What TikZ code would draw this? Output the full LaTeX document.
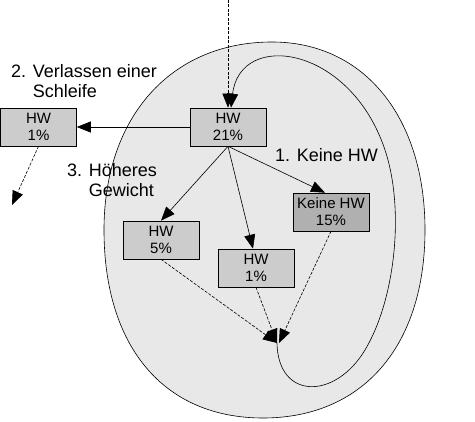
\documentclass[tikz,border=0pt]{standalone}
\usepackage{fontspec}
\setmainfont{Liberation Sans}
\usetikzlibrary{arrows.meta,positioning}

\begin{document}
\begin{tikzpicture}[
  x=1pt,y=-1pt,
  box/.style={draw=black,fill=gray!40,line width=0.6pt,minimum width=76pt,
              minimum height=38pt,inner sep=0pt,align=center,
              font=\fontsize{15}{17}\selectfont},
  darkbox/.style={box,fill=gray!62},
  note/.style={inner sep=0pt,align=left,font=\fontsize{18}{20}\selectfont},
  solidarrow/.style={-{Triangle[length=14pt,width=11pt]},line width=0.6pt},
  dashedarrow/.style={solidarrow,dash pattern=on 3pt off 1.5pt}
]
\useasboundingbox (0,0) rectangle (475,422);

% region of the loop
\coordinate (T) at (272,42);
\coordinate (R) at (425,230);
\coordinate (B) at (263,418);
\coordinate (L) at (104,230);
\filldraw[fill=gray!18,draw=black,line width=0.6pt]
  (T) .. controls (364,42) and (425,117) .. (R)
      .. controls (425,347) and (362,418) .. (B)
      .. controls (164,418) and (104,347) .. (L)
      .. controls (104,117) and (171,42) .. (T) -- cycle;

\coordinate (entry) at (228,0);
\coordinate (exit) at (12,205);
\coordinate (merge) at (277,343);

\node[box] (hwtop) at (228,127) {HW\\21\%};
\node[box] (hwout) at (38.5,127) {HW\\1\%};
\node[darkbox] (keine) at (331,212) {Keine HW\\15\%};
\node[box] (hwfive) at (161,240) {HW\\5\%};
\node[box] (hwone) at (256,268) {HW\\1\%};

\node[note,anchor=north west] (leave) at (11,64)
  {2. Verlassen einer\\\phantom{2. }Schleife};
\node[note,anchor=north west] (heavier) at (67,163)
  {3. H\"oheres\\\phantom{3. }Gewicht};
\node[note,anchor=base west] (nohw) at (275,162) {1. Keine HW};

\draw[dashedarrow] (entry) -- (hwtop.north);
\draw[solidarrow] (hwtop.west) -- (hwout.east);
\draw[dashedarrow] (hwout.south) -- (exit);
\draw[solidarrow] (hwtop.south) -- (hwfive.north);
\draw[solidarrow] (hwtop.south) -- ([xshift=-3pt]hwone.north);
\draw[solidarrow] (hwtop.south) -- ([xshift=-6pt]keine.north);

\draw[dashedarrow] (hwfive.south) -- (merge);
\draw[dashedarrow] (hwone.south) -- (merge);
\draw[dashedarrow] (keine.south) -- ([xshift=2pt]merge);

% back edge of the loop
\draw[solidarrow] (merge)
  .. controls (278,400) and (335,400) .. (365,350)
  .. controls (395,300) and (405,210) .. (385,150)
  .. controls (350,45) and (240,30) .. ([xshift=3pt]hwtop.north);
\end{tikzpicture}
\end{document}
